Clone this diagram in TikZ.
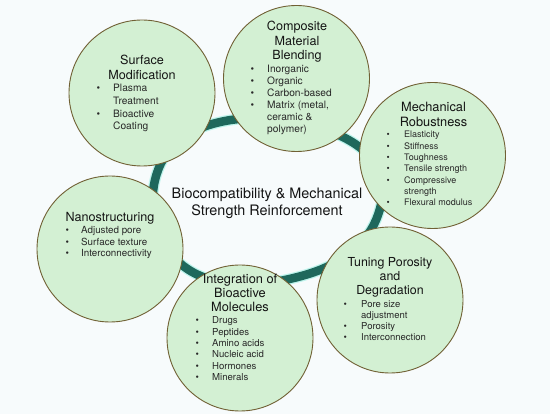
\documentclass[tikz,border=0pt]{standalone}
\usepackage{fontspec}
\setmainfont{TeX Gyre Heros}
\definecolor{bgc}{RGB}{247,251,252}
\definecolor{ringc}{RGB}{30,104,92}
\definecolor{haloc}{RGB}{190,244,236}
\definecolor{bubfill}{RGB}{211,240,211}
\definecolor{bubline}{RGB}{112,96,52}
\definecolor{txt}{RGB}{20,20,20}
\definecolor{ltxt}{RGB}{40,40,40}
\newlength\bulw
\newcommand\bi[1]{\makebox[\bulw][l]{•}#1}
\newcommand\ci[1]{\hspace*{\bulw}#1}
\tikzset{
  bubble/.style={circle, draw=bubline, line width=0.9pt, fill=bubfill, minimum size=146pt, inner sep=0pt},
  ttl/.style={align=center, anchor=base, inner sep=0pt, text=txt, font=\fontsize{12.6}{14.4}\selectfont},
  lst/.style={align=left, anchor=base west, inner sep=0pt, text=ltxt},
}
\begin{document}
\begin{tikzpicture}[x=1pt,y=-1pt]
\fill[bgc] (0,0) rectangle (550,414);
\useasboundingbox (0,0) rectangle (550,414);
% ring
\draw[haloc, line width=11pt] plot[smooth cycle, tension=0.75] coordinates {(155,180) (225,121) (352,142) (378,215) (305,275) (189,270)};
\draw[ringc, line width=8.5pt] plot[smooth cycle, tension=0.75] coordinates {(155,180) (225,121) (352,142) (378,215) (305,275) (189,270)};
% central text (anchor = baseline of last line)
\node[align=center, anchor=base, inner sep=0pt, text=txt, font=\fontsize{14.4}{17}\selectfont] (center) at (267,216) {Biocompatibility \& Mechanical\\Strength Reinforcement};
% bubbles
\node[bubble] (surf) at (142,93) {};
\node[bubble] (comp) at (296.5,78.5) {};
\node[bubble] (mech) at (432.5,155.5) {};
\node[bubble] (tune) at (390,300) {};
\node[bubble] (integ) at (240,338) {};
\node[bubble] (nano) at (110,249) {};
% Surface Modification
\node[ttl] (surfT) at (142,79.4) {Surface\\Modification};
\node[lst, font={\fontsize{10.2}{12.6}\selectfont\setlength\bulw{16.5pt}}] (surfL) at (96.5,129.8) {\bi{Plasma}\\\ci{Treatment}\\\bi{Bioactive}\\\ci{Coating}};
% Composite Material Blending
\node[ttl] (compT) at (297,59.8) {Composite\\Material\\Blending};
\node[lst, font={\fontsize{10.2}{12}\selectfont\setlength\bulw{16.5pt}}] (compL) at (250.5,133) {\bi{Inorganic}\\\bi{Organic}\\\bi{Carbon-based}\\\bi{Matrix (metal,}\\\ci{ceramic \&}\\\ci{polymer)}};
% Mechanical Robustness
\node[ttl, font=\fontsize{12.8}{15}\selectfont] (mechT) at (433.5,127) {Mechanical\\Robustness};
\node[lst, font={\fontsize{9}{11.3}\selectfont\setlength\bulw{17.5pt}}] (mechL) at (386.5,205.8) {\bi{Elasticity}\\\bi{Stiffness}\\\bi{Toughness}\\\bi{Tensile strength}\\\bi{Compressive}\\\ci{strength}\\\bi{Flexural modulus}};
% Tuning Porosity
\node[ttl, font=\fontsize{12.4}{14}\selectfont] (tuneT) at (390,295) {Tuning Porosity\\and\\Degradation};
\node[lst, font={\fontsize{9.5}{11}\selectfont\setlength\bulw{17.5pt}}] (tuneL) at (343.5,341) {\bi{Pore size}\\\ci{adjustment}\\\bi{Porosity}\\\bi{Interconnection}};
% Integration
\node[ttl, font=\fontsize{12.8}{14}\selectfont] (integT) at (240,312) {Integration of\\Bioactive\\Molecules};
\node[lst, font={\fontsize{9.6}{11.3}\selectfont\setlength\bulw{16.5pt}}] (integL) at (195.5,380.5) {\bi{Drugs}\\\bi{Peptides}\\\bi{Amino acids}\\\bi{Nucleic acid}\\\bi{Hormones}\\\bi{Minerals}};
% Nanostructuring
\node[ttl] (nanoT) at (110,222) {Nanostructuring};
\node[lst, font={\fontsize{9.8}{11.5}\selectfont\setlength\bulw{15.5pt}}] (nanoL) at (65.5,257) {\bi{Adjusted pore}\\\bi{Surface texture}\\\bi{Interconnectivity}};
\end{tikzpicture}
\end{document}
